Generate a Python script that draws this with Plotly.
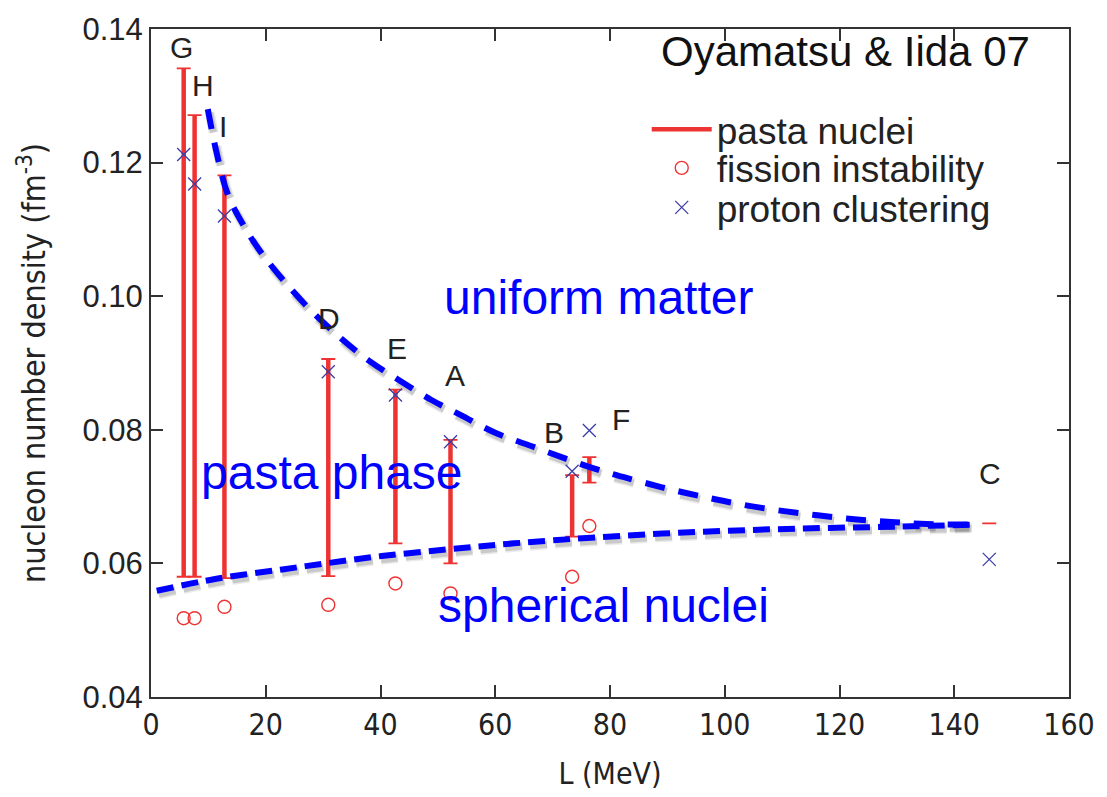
import plotly.graph_objects as go

# ---- data ----
models = ["G", "H", "I", "D", "E", "A", "B", "F", "C"]
L_val = [5.7, 7.6, 12.8, 30.9, 42.6, 52.2, 73.4, 76.4, 146.1]
pasta_lo = [0.0580, 0.0580, 0.0578, 0.0581, 0.0630, 0.0600, 0.0640, 0.0721, 0.0660]
pasta_hi = [0.1341, 0.1271, 0.1181, 0.0906, 0.0860, 0.0785, 0.0732, 0.0759, 0.0660]
fission_L = [5.7, 7.6, 12.8, 30.9, 42.6, 52.2, 73.4, 76.4]
fission_n = [0.0518, 0.0518, 0.0535, 0.0538, 0.0570, 0.0555, 0.0580, 0.0656]
proton_n = [0.1212, 0.1168, 0.1120, 0.0887, 0.0852, 0.0782, 0.0738, 0.0799, 0.0606]

label_L = [5.4, 9.1, 12.5, 31.0, 42.8, 52.9, 70.2, 82.0, 146.3]
label_n = [0.1373, 0.1316, 0.1254, 0.0966, 0.0922, 0.0882, 0.0796, 0.0815, 0.0734]

upper_L = [9.9, 11.4, 13.4, 16.0, 19.4, 26.7, 32.7, 37.9, 43.1, 48.8, 54.0, 59.9,
           66.8, 77.6, 84.6, 90.9, 97.2, 103.0, 109.7, 116.2, 122.6, 129.0, 135.2, 143.7]
upper_n = [0.1280, 0.1216, 0.1152, 0.1108, 0.1063, 0.0989, 0.0940, 0.0904, 0.0875,
           0.0845, 0.0822, 0.0796, 0.0774, 0.0741, 0.0724, 0.0710, 0.0698, 0.0688,
           0.0679, 0.0672, 0.0666, 0.0662, 0.0659, 0.0658]
lower_L = [1.0, 11.4, 22.9, 30.4, 40.2, 51.8, 63.3, 77.7, 95.0, 112.3, 129.6, 143.4]
lower_n = [0.0559, 0.0577, 0.0591, 0.0600, 0.0611, 0.0621, 0.0630, 0.0639, 0.0647,
           0.0652, 0.0655, 0.0658]

region_text = ["uniform matter", "pasta phase", "spherical nuclei"]
region_L = [78.0, 31.6, 78.9]
region_n = [0.0998, 0.0736, 0.0537]

title_text = "Oyamatsu & Iida 07"
title_L = 121.1
title_n = 0.1366

legend_names = ["pasta nuclei", "fission instability", "proton clustering"]

x_range = [0, 160]
y_range = [0.04, 0.14]

# ---- figure ----
RED = "#ee3333"
BLUE = "#0000ff"
NAVY = "#3c3ca8"
FONT = "Liberation Sans, Arial, Helvetica, sans-serif"
NARROW = "Liberation Sans Narrow, DejaVu Sans Condensed, Liberation Sans, sans-serif"

fig = go.Figure()

# soft shadows of the dashed curves (drawn on a slightly shifted hidden axis pair)
for xs, ys, dash in [(upper_L, upper_n, "20px,14px"), (lower_L, lower_n, "17px,8px")]:
    for w, a in [(10, 0.08), (7, 0.14)]:
        fig.add_trace(go.Scatter(x=xs, y=ys, mode="lines", xaxis="x", yaxis="y",
                                 line=dict(color=f"rgba(0,0,0,{a})", width=w, dash=dash,
                                           shape="spline"),
                                 showlegend=False, hoverinfo="skip"))

# pasta ranges: stems
stem_x, stem_y = [], []
for l, lo, hi in zip(L_val, pasta_lo, pasta_hi):
    stem_x += [l, l, None]
    stem_y += [lo, hi, None]
fig.add_trace(go.Scatter(x=stem_x, y=stem_y, mode="lines", xaxis="x2", yaxis="y2",
                         line=dict(color=RED, width=4.5), name=legend_names[0],
                         legend="legend"))
# caps
mid = [(lo + hi) / 2 for lo, hi in zip(pasta_lo, pasta_hi)]
half = [(hi - lo) / 2 for lo, hi in zip(pasta_lo, pasta_hi)]
fig.add_trace(go.Scatter(x=L_val, y=mid, mode="markers", xaxis="x2", yaxis="y2",
                         marker=dict(size=1, color="rgba(0,0,0,0)"),
                         error_y=dict(type="data", array=half, visible=True,
                                      color=RED, thickness=1.8, width=7),
                         showlegend=False, hoverinfo="skip"))

# dashed curves
fig.add_trace(go.Scatter(x=upper_L, y=upper_n, mode="lines", xaxis="x2", yaxis="y2",
                         line=dict(color=BLUE, width=6, dash="20px,14px", shape="spline"),
                         showlegend=False, hoverinfo="skip"))
fig.add_trace(go.Scatter(x=lower_L, y=lower_n, mode="lines", xaxis="x2", yaxis="y2",
                         line=dict(color=BLUE, width=6, dash="17px,8px", shape="spline"),
                         showlegend=False, hoverinfo="skip"))

fig.add_trace(go.Scatter(x=fission_L, y=fission_n, mode="markers", xaxis="x2", yaxis="y2",
                         marker=dict(symbol="circle-open", size=13, color=RED,
                                     line=dict(width=1.4, color=RED)),
                         name=legend_names[1], legend="legend2"))
fig.add_trace(go.Scatter(x=L_val, y=proton_n, mode="markers", xaxis="x2", yaxis="y2",
                         marker=dict(symbol="x-thin-open", size=13, color=NAVY,
                                     line=dict(width=1.3, color=NAVY)),
                         name=legend_names[2], legend="legend3"))

annotations = []
for t, lx, ly in zip(models, label_L, label_n):
    annotations.append(dict(x=lx, y=ly, xref="x2", yref="y2", text=t, showarrow=False,
                            font=dict(family=FONT, size=30, color="#222222")))
for t, lx, ly in zip(region_text, region_L, region_n):
    annotations.append(dict(x=lx, y=ly, xref="x2", yref="y2", text=t, showarrow=False,
                            font=dict(family=FONT, size=48, color=BLUE)))
annotations.append(dict(x=title_L, y=title_n, xref="x2", yref="y2", text=title_text,
                        showarrow=False, font=dict(family=FONT, size=42, color="#111111")))

# pixel shift for the shadow axes
px_x = (x_range[1] - x_range[0]) / 925.0
px_y = (y_range[1] - y_range[0]) / 676.0
sx, sy = 2.0, 3.5

axis_common = dict(showgrid=False, zeroline=False, showline=True, linecolor="#333333",
                   linewidth=2, ticks="inside", ticklen=12, tickwidth=1.5,
                   tickcolor="#333333", mirror="ticks")

legend_common = dict(xanchor="left", yanchor="middle", bgcolor="rgba(0,0,0,0)",
                     font=dict(family=FONT, size=37, color="#222222"), itemwidth=60)

fig.update_layout(
    width=1107, height=797,
    margin=dict(l=151, r=31, t=22, b=99),
    paper_bgcolor="white", plot_bgcolor="white",
    showlegend=True,
    legend=dict(x=0.540, y=0.8492, **legend_common),
    legend2=dict(x=0.540, y=0.7915, **legend_common),
    legend3=dict(x=0.540, y=0.7323, **legend_common),
    xaxis=dict(range=[x_range[0] - sx * px_x, x_range[1] - sx * px_x], visible=False,
               fixedrange=True),
    yaxis=dict(range=[y_range[0] + sy * px_y, y_range[1] + sy * px_y], visible=False,
               fixedrange=True),
    xaxis2=dict(range=x_range, overlaying="x", side="bottom", dtick=20, tick0=0,
                title=dict(text="L (MeV)", font=dict(family=NARROW, size=30, color="#222222"),
                           standoff=22),
                tickfont=dict(family=NARROW, size=30, color="#222222"),
                **axis_common),
    yaxis2=dict(range=y_range, overlaying="y", side="left", dtick=0.02, tick0=0.04,
                tickformat=".2f",
                title=dict(text="nucleon number density (fm<sup>-3</sup>)",
                           font=dict(family=NARROW, size=32, color="#222222"),
                           standoff=27),
                tickfont=dict(family=FONT, size=31, color="#222222"),
                **axis_common),
    annotations=annotations,
)

fig.write_html("out.html")
